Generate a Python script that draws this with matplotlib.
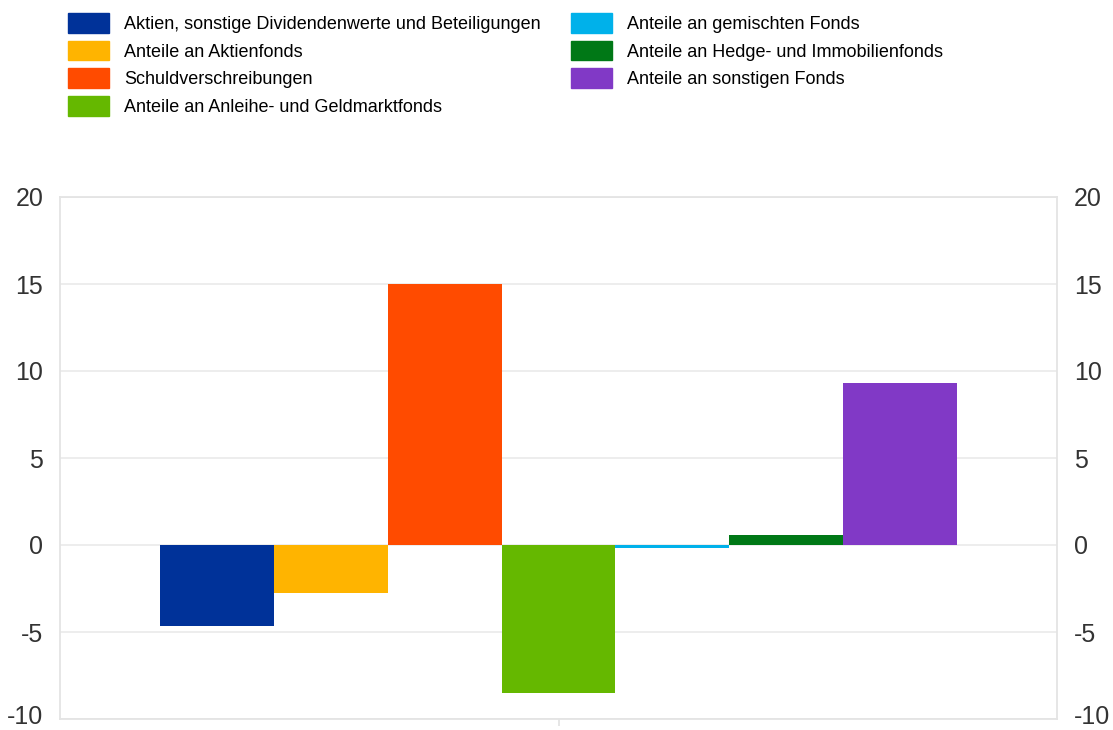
import matplotlib.pyplot as plt
import matplotlib.patches as mpatches
import matplotlib.transforms as mtransforms

plt.rcParams["font.family"] = ["Liberation Sans", "DejaVu Sans"]

# Categories and values (percentage points)
labels = [
    "Aktien, sonstige Dividendenwerte und Beteiligungen",
    "Anteile an Aktienfonds",
    "Schuldverschreibungen",
    "Anteile an Anleihe- und Geldmarktfonds",
    "Anteile an gemischten Fonds",
    "Anteile an Hedge- und Immobilienfonds",
    "Anteile an sonstigen Fonds",
]
values = [-4.65, -2.75, 15.0, -8.5, -0.18, 0.57, 9.3]
colors = ["#003299", "#FFB400", "#FF4B00", "#65B800", "#00B1EA", "#007816", "#8139C6"]
yticks = [-10, -5, 0, 5, 10, 15, 20]

W, H = 1113, 730
fig = plt.figure(figsize=(W / 100, H / 100), dpi=100)
ax = fig.add_axes([60 / W, 11 / H, 997 / W, (719 - 197) / H])

n = len(values)
group = 0.8
bw = group / n
for i, (v, c, lab) in enumerate(zip(values, colors, labels)):
    x = -group / 2 + bw * (i + 0.5)
    ax.bar(x, v, width=bw, color=c, label=lab, zorder=3)

ax.set_xlim(-0.5, 0.5)
ax.set_ylim(-10, 20)
ax.set_yticks(yticks)
ax.set_yticklabels([str(t) for t in yticks])
ax.set_xticks([0])
ax.set_xticklabels([""])
ax.grid(axis="y", color="#ececec", linewidth=1.3, zorder=0)
for s in ax.spines.values():
    s.set_color("#e4e4e4")
    s.set_linewidth(1.3)
ax.tick_params(axis="y", length=0, labelsize=18, labelcolor="#333333", pad=12,
               left=True, right=True, labelleft=True, labelright=True)
ax.tick_params(axis="x", length=5, color="#e4e4e4", width=1.3)

# nudge the bottom labels up a bit so they stay inside the figure
shift = mtransforms.ScaledTranslation(0, 3 / 72, fig.dpi_scale_trans)
fig.canvas.draw()
for tick in ax.yaxis.get_major_ticks()[:1]:
    for lbl in (tick.label1, tick.label2):
        lbl.set_transform(lbl.get_transform() + shift)

handles = [mpatches.Patch(color=c) for c in colors]
fig.legend(handles, labels, ncol=2, loc="upper left",
           bbox_to_anchor=(68 / W, 1 - 13 / H), frameon=False,
           fontsize=13, handlelength=2.28, handleheight=1.3,
           handletextpad=0.83, labelspacing=0.43, columnspacing=1.66,
           borderaxespad=0, borderpad=0)

fig.savefig("out.png", dpi=100)
